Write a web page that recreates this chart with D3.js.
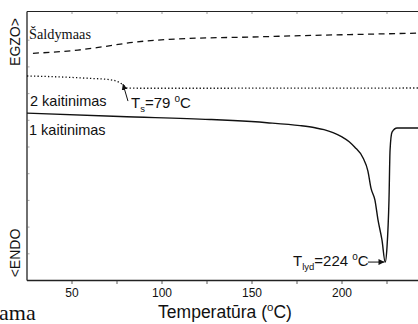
<!DOCTYPE html>
<html>
<head>
<meta charset="utf-8">
<script src="https://cdn.jsdelivr.net/npm/d3@7"></script>
<style>
  body { margin: 0; background: #fff; }
  svg { display: block; }
  text { font-family: "Liberation Sans", Arial, sans-serif; fill: #111; }
  .serif { font-family: "Liberation Serif", "Times New Roman", serif; }
</style>
</head>
<body>
<div id="chart"></div>
<script>
// DSC curves (heat flow in arbitrary units)
const coolingT  = [28.3, 53.3, 66.7, 85, 103.9, 126.7, 144.4, 176.7, 204.4, 245];
const coolingQ  = [8.51, 8.63, 8.75, 8.93, 9.03, 9.09, 9.11, 9.17, 9.21, 9.27];

const heat2T = [25, 45, 60, 70, 76, 78.5, 80.5, 90, 245];
const heat2Q = [7.66, 7.62, 7.57, 7.53, 7.43, 7.32, 7.21, 7.20, 7.21];

const heat1T = [25, 76.7, 126.7, 139.4, 158.3, 176.7, 185, 190, 195, 200, 204, 207, 211.7,
                214.4, 216.1, 218.3, 220, 222.2, 224, 225, 226.1, 226.7, 227.8, 230.6, 245];
const heat1Q = [6.27, 6.14, 6.03, 5.99, 5.91, 5.80, 5.72, 5.65, 5.54, 5.38, 5.20, 5.00, 4.59,
                4.10, 3.46, 3.01, 2.27, 1.52, 0.69, 1.25, 3.01, 4.89, 5.56, 5.71, 5.71];

const xTicks = [25, 50, 75, 100, 125, 150, 175, 200, 225];
const xLabels = [50, 100, 150, 200];
const yTicks = [1, 2, 3, 4, 5, 6, 7, 8, 9];

const width = 418, height = 324;
const margin = {top: 11.5, left: 27, bottom: 280.5};

const svg = d3.select("#chart").append("svg")
    .attr("width", width)
    .attr("height", height);

const x = d3.scaleLinear().domain([25, 245]).range([margin.left, margin.left + 220 * 1.8]);
const y = d3.scaleLinear().domain([0, 10]).range([margin.bottom, 13.5]);

// clip to plot area
svg.append("defs").append("clipPath").attr("id", "plot")
    .append("rect")
    .attr("x", margin.left).attr("y", margin.top)
    .attr("width", width - margin.left).attr("height", margin.bottom - margin.top);

// frame: left, bottom, top
svg.append("line")
    .attr("x1", margin.left).attr("x2", margin.left)
    .attr("y1", margin.top).attr("y2", margin.bottom)
    .attr("stroke", "#222").attr("stroke-width", 1.3);
svg.append("line")
    .attr("x1", margin.left).attr("x2", width)
    .attr("y1", margin.bottom).attr("y2", margin.bottom)
    .attr("stroke", "#222").attr("stroke-width", 1.3);
svg.append("line")
    .attr("x1", margin.left).attr("x2", width)
    .attr("y1", margin.top).attr("y2", margin.top)
    .attr("stroke", "#222").attr("stroke-width", 1.1);

// bottom ticks (outward) and top ticks (inward)
svg.append("g").selectAll("line.bt")
    .data(xTicks.filter(d => d > 25))
    .join("line")
    .attr("x1", d => x(d)).attr("x2", d => x(d))
    .attr("y1", margin.bottom).attr("y2", margin.bottom + 3.5)
    .attr("stroke", "#333").attr("stroke-width", 0.8);
svg.append("g").selectAll("line.tt")
    .data(xTicks.filter(d => d > 25))
    .join("line")
    .attr("x1", d => x(d)).attr("x2", d => x(d))
    .attr("y1", margin.top).attr("y2", margin.top + 2.5)
    .attr("stroke", "#555").attr("stroke-width", 0.6);
svg.append("g").selectAll("line.lt")
    .data(yTicks)
    .join("line")
    .attr("x1", margin.left).attr("x2", margin.left + 2.5)
    .attr("y1", d => y(d)).attr("y2", d => y(d))
    .attr("stroke", "#666").attr("stroke-width", 0.6);

svg.append("g").selectAll("text")
    .data(xLabels)
    .join("text")
    .attr("x", d => x(d))
    .attr("y", 297)
    .attr("text-anchor", "middle")
    .attr("font-size", 12)
    .text(d => d);

// curves
const line = d3.line()
    .x(d => x(d[0]))
    .y(d => y(d[1]))
    .curve(d3.curveMonotoneX);

const curves = svg.append("g").attr("clip-path", "url(#plot)");

curves.append("path")
    .attr("d", line(d3.zip(coolingT, coolingQ)))
    .attr("fill", "none")
    .attr("stroke", "#111")
    .attr("stroke-width", 1.3)
    .attr("stroke-dasharray", "6,4.5");

curves.append("path")
    .attr("d", line(d3.zip(heat2T, heat2Q)))
    .attr("fill", "none")
    .attr("stroke", "#111")
    .attr("stroke-width", 1.3)
    .attr("stroke-dasharray", "1.3,2.2");

curves.append("path")
    .attr("d", line(d3.zip(heat1T, heat1Q)))
    .attr("fill", "none")
    .attr("stroke", "#111")
    .attr("stroke-width", 1.4);

// arrows
svg.append("defs").append("marker")
    .attr("id", "arr")
    .attr("viewBox", "0 0 10 10")
    .attr("refX", 10).attr("refY", 5)
    .attr("markerWidth", 6).attr("markerHeight", 6)
    .attr("markerUnits", "userSpaceOnUse")
    .attr("orient", "auto")
    .append("path")
    .attr("d", "M0,0L10,5L0,10z")
    .attr("fill", "#111");

svg.append("line")
    .attr("x1", x(81.1)).attr("y1", y(6.72))
    .attr("x2", x(78.3)).attr("y2", y(7.36))
    .attr("stroke", "#111").attr("stroke-width", 1)
    .attr("marker-end", "url(#arr)");

svg.append("line")
    .attr("x1", x(214.4)).attr("y1", y(0.69))
    .attr("x2", x(223.6)).attr("y2", y(0.69))
    .attr("stroke", "#111").attr("stroke-width", 1)
    .attr("marker-end", "url(#arr)");

// labels
svg.append("text")
    .attr("class", "serif")
    .attr("x", 29).attr("y", 39)
    .attr("font-size", 14.3)
    .text("Šaldymaas");

svg.append("text")
    .attr("x", 30).attr("y", 106)
    .attr("font-size", 14.5)
    .text("2 kaitinimas");

svg.append("text")
    .attr("x", 29).attr("y", 135)
    .attr("font-size", 14.5)
    .text("1 kaitinimas");

const ts = svg.append("text")
    .attr("x", 131).attr("y", 108)
    .attr("font-size", 15);
ts.append("tspan").text("T");
ts.append("tspan").attr("font-size", 9.5).attr("dy", 4).text("s");
ts.append("tspan").attr("dy", -4).text("=79 ");
ts.append("tspan").attr("font-size", 10).attr("dy", -6).text("o");
ts.append("tspan").attr("dy", 6).text("C");

const tl = svg.append("text")
    .attr("x", 293).attr("y", 266)
    .attr("font-size", 15);
tl.append("tspan").text("T");
tl.append("tspan").attr("font-size", 9.5).attr("dy", 4).text("lyd");
tl.append("tspan").attr("dy", -4).text("=224 ");
tl.append("tspan").attr("font-size", 10).attr("dy", -6).text("o");
tl.append("tspan").attr("dy", 6).text("C");

const xt = svg.append("text")
    .attr("x", 225).attr("y", 318)
    .attr("text-anchor", "middle")
    .attr("font-size", 17.5);
xt.append("tspan").text("Temperatūra (");
xt.append("tspan").attr("font-size", 11.5).attr("dy", -7).text("o");
xt.append("tspan").attr("dy", 7).text("C)");

svg.append("text")
    .attr("transform", "translate(20,42) rotate(-90)")
    .attr("text-anchor", "middle")
    .attr("font-size", 14)
    .text("EGZO>");

svg.append("text")
    .attr("transform", "translate(20,253) rotate(-90)")
    .attr("text-anchor", "middle")
    .attr("font-size", 14)
    .text("<ENDO");

// caption fragment cut off at the bottom-left
svg.append("text")
    .attr("class", "serif")
    .attr("x", -1).attr("y", 320)
    .attr("font-size", 22)
    .text("ama");
</script>
</body>
</html>
